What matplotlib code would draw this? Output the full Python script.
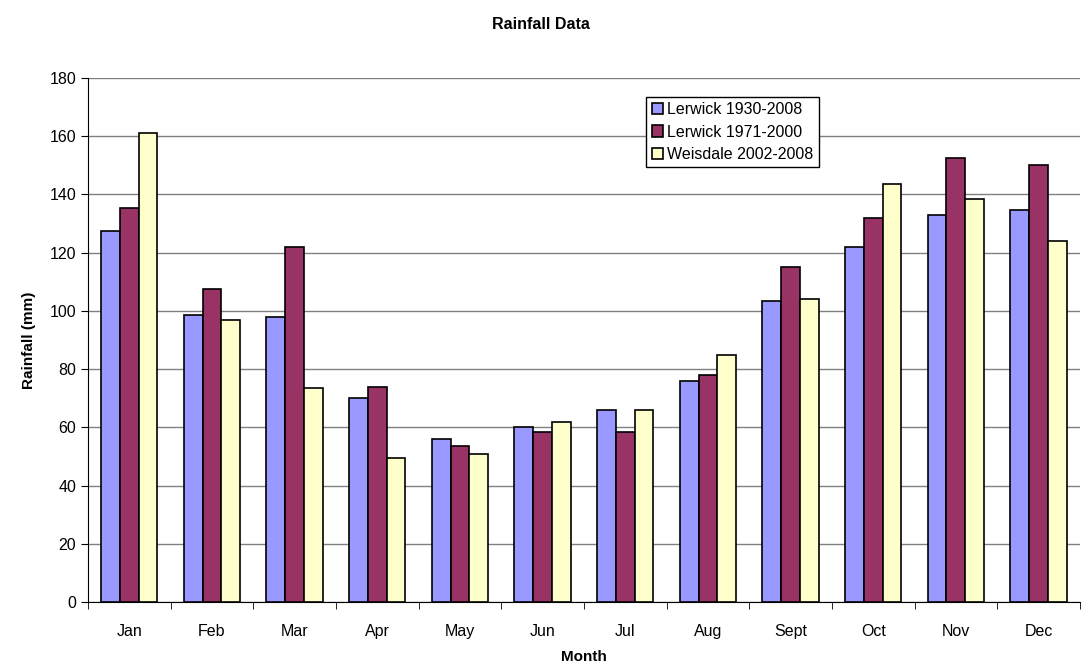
import numpy as np
import matplotlib.pyplot as plt

plt.rcParams['font.family'] = ['Liberation Sans', 'DejaVu Sans']

months = ['Jan', 'Feb', 'Mar', 'Apr', 'May', 'Jun', 'Jul', 'Aug', 'Sept', 'Oct', 'Nov', 'Dec']
lerwick_1930 = [127.5, 98.5, 98, 70, 56, 60, 66, 76, 103.5, 122, 133, 134.5]
lerwick_1971 = [135.5, 107.5, 122, 74, 53.5, 58.5, 58.5, 78, 115, 132, 152.5, 150]
weisdale = [161, 97, 73.5, 49.5, 51, 62, 66, 85, 104, 143.5, 138.5, 124]
series_names = ['Lerwick 1930-2008', 'Lerwick 1971-2000', 'Weisdale 2002-2008']
colors = ['#9999FF', '#993366', '#FFFFCC']

fig = plt.figure(figsize=(10.82, 6.7), dpi=100)
ax = fig.add_axes([0.0813, 0.1015, 0.9167, 0.7821])

x = np.arange(len(months))
w = 0.227
for i, vals in enumerate([lerwick_1930, lerwick_1971, weisdale]):
    ax.bar(x + (i - 1) * w, vals, w, color=colors[i], edgecolor='black',
           linewidth=1.2, label=series_names[i], zorder=3)

ax.set_xlim(-0.5, len(months) - 0.5)
ax.set_ylim(0, 180)
ax.set_yticks(range(0, 181, 20))
ax.yaxis.grid(True, color='#808080', linewidth=1, zorder=0)
ax.set_xticks(x)
ax.set_xticklabels(months)
ax.set_xticks(np.arange(-0.5, len(months)), minor=True)
ax.tick_params(axis='x', which='major', length=0, pad=16, labelsize=11.5)
ax.tick_params(axis='x', which='minor', length=5, direction='out')
ax.tick_params(axis='y', length=5, direction='out', labelsize=11.5)

for s in ['top', 'right']:
    ax.spines[s].set_visible(False)
ax.spines['left'].set_color('black')
ax.spines['bottom'].set_color('black')

ax.set_xlabel('Month', fontweight='bold', fontsize=11, labelpad=8)
ax.set_ylabel('Rainfall (mm)', fontweight='bold', fontsize=11, labelpad=10)
fig.suptitle('Rainfall Data', fontweight='bold', fontsize=11.5, y=0.975)

leg = ax.legend(loc='upper left', bbox_to_anchor=(0.563, 0.964), fancybox=False,
                framealpha=1, edgecolor='black', fontsize=11.5, handlelength=0.7,
                handleheight=0.7, handletextpad=0.25, borderpad=0.35, labelspacing=0.45,
                borderaxespad=0)
leg.get_frame().set_linewidth(1)

fig.savefig('out.png', dpi=100)
